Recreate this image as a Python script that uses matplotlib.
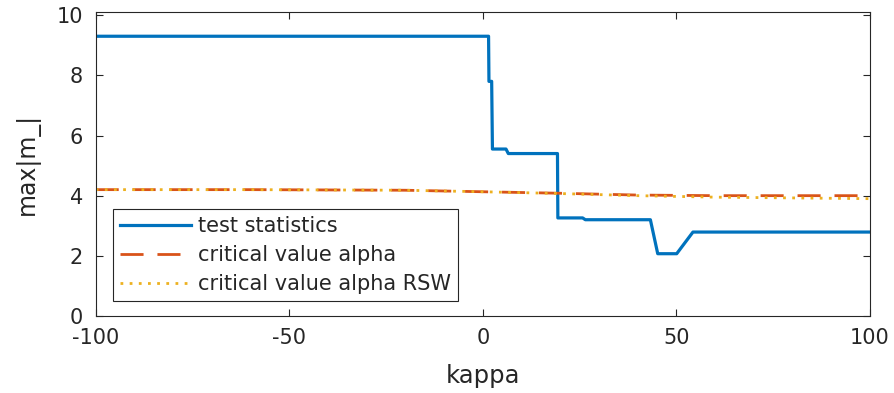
import matplotlib.pyplot as plt

# test statistic (step-like curve)
kappa_stat = [-100, 1.5, 1.6, 2.3, 2.5, 6.0, 6.6, 19.3, 19.4, 25.8, 26.5, 43.3, 45.2, 50.1, 54.3, 100]
stat = [9.3, 9.3, 7.8, 7.8, 5.55, 5.55, 5.4, 5.4, 3.26, 3.26, 3.2, 3.2, 2.07, 2.07, 2.79, 2.79]

# critical values
kappa_crit = [-100, -60, -20, 0, 20, 40, 60, 100]
crit = [4.2, 4.2, 4.18, 4.13, 4.08, 4.02, 4.0, 4.0]
crit_rsw = [4.2, 4.2, 4.18, 4.13, 4.07, 4.0, 3.95, 3.9]

blue = "#0072BD"
orange = "#D95319"
yellow = "#EDB120"
textc = "#262626"

plt.rcParams["font.family"] = "DejaVu Sans"
plt.rcParams["axes.unicode_minus"] = False

fig = plt.figure(figsize=(8.94, 3.93), dpi=100)
ax = fig.add_axes([0.107, 0.196, 0.866, 0.773])

ax.plot(kappa_stat, stat, color=blue, lw=2.3, label="test statistics")
ax.plot(kappa_crit, crit, color=orange, lw=2.0, ls=(0, (8.3, 5)), label="critical value alpha")
ax.plot(kappa_crit, crit_rsw, color=yellow, lw=2.0, ls=(0, (1, 2.3)), label="critical value alpha RSW")

ax.set_xlim(-100, 100)
ax.set_ylim(0, 10.1)
ax.set_xticks([-100, -50, 0, 50, 100])
ax.set_yticks([0, 2, 4, 6, 8, 10])
ax.tick_params(direction="in", top=True, right=True, labelsize=15, colors=textc, length=5, pad=9)
for s in ax.spines.values():
    s.set_color(textc)
    s.set_linewidth(0.8)

ax.set_xlabel("kappa", fontsize=17.5, color=textc, labelpad=11)
ax.set_ylabel("max|m_|", fontsize=17, color=textc, labelpad=12)

leg = ax.legend(loc="lower left", bbox_to_anchor=(0.022, 0.049), fontsize=15,
                fancybox=False, framealpha=1, edgecolor=textc, handlelength=3.4,
                handletextpad=0.35, borderaxespad=0, labelspacing=0.42, borderpad=0.35)
leg.get_frame().set_linewidth(0.8)
for t in leg.get_texts():
    t.set_color(textc)

fig.savefig("out.png", dpi=100)
